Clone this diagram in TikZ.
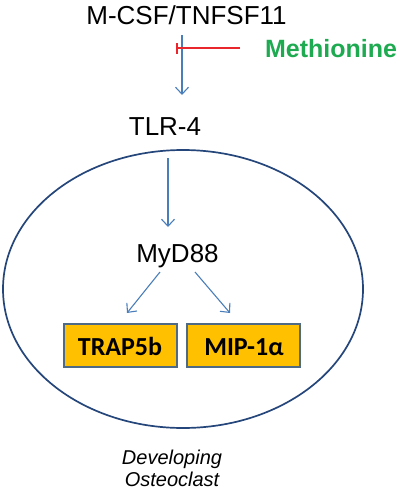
\documentclass[tikz,border=0pt]{standalone}
\usepackage{fontspec}
\setmainfont{Liberation Sans}
\newfontfamily\calib{Carlito}
\usetikzlibrary{arrows.meta,shapes.geometric}
\definecolor{arrblue}{HTML}{4A7EBB}
\definecolor{cellblue}{HTML}{25467A}
\definecolor{boxfill}{HTML}{FFC000}
\definecolor{boxline}{HTML}{4E6A85}
\definecolor{methgreen}{HTML}{1EAA50}
\definecolor{inhred}{HTML}{E8262B}
\tikzset{
  lbl/.style={font=\fontsize{26}{30}\selectfont, inner sep=0pt, anchor=base},
  arr/.style={draw=arrblue, line width=1.1pt, -{Straight Barb[length=7pt,width=13pt,line width=1.1pt]}},
  genebox/.style={draw=boxline, line width=2pt, fill=boxfill, minimum width=113pt, minimum height=43pt, inner sep=0pt},
  genetxt/.style={font=\calib\bfseries\fontsize{26}{28}\selectfont, inner sep=0pt, anchor=base},
}
\begin{document}
\begin{tikzpicture}[x=1pt,y=-1pt]
\useasboundingbox (0,0) rectangle (400,490);
\node[draw=cellblue, line width=1.7pt, ellipse, inner sep=0pt, minimum width=360pt, minimum height=278pt] (cell) at (183,289) {};
\node[lbl] (mcsf) at (186.5,24) {M-CSF/TNFSF11};
\node[lbl, font=\bfseries\fontsize{25}{28}\selectfont, text=methgreen] (meth) at (331,57) {Methionine};
\node[lbl] (tlr) at (165,135) {TLR-4};
\node[lbl] (myd) at (177.5,262) {MyD88};
\node[genebox] (trap) at (120.5,345) {};
\node[genebox] (mip) at (243,345) {};
\node[genetxt] (traptxt) at (120,355) {TRAP5b};
\node[genetxt] (miptxt) at (244,355) {MIP-1α};
\node[lbl, font=\itshape\fontsize{20}{22}\selectfont, align=center, anchor=center] (dev) at (172,468) {Developing\\Osteoclast};
\coordinate (xa) at (182,0);
\coordinate (xb) at (168,0);
\coordinate (inhend) at (176,48);
\draw[arr] (mcsf.base -| xa) ++(0,11) -- (182,95);
\draw[arr] (tlr.base -| xb) ++(0,23) -- (168,227);
\draw[arr] (myd.base) ++(-17.5,10) -- (127,313);
\draw[arr] (myd.base) ++(17.5,10) -- (230,313);
\draw[draw=inhred, line width=2pt, -{Bar[width=11pt,line width=2pt]}] (meth.west |- inhend) ++(-25,0) -- (inhend);
\end{tikzpicture}
\end{document}
